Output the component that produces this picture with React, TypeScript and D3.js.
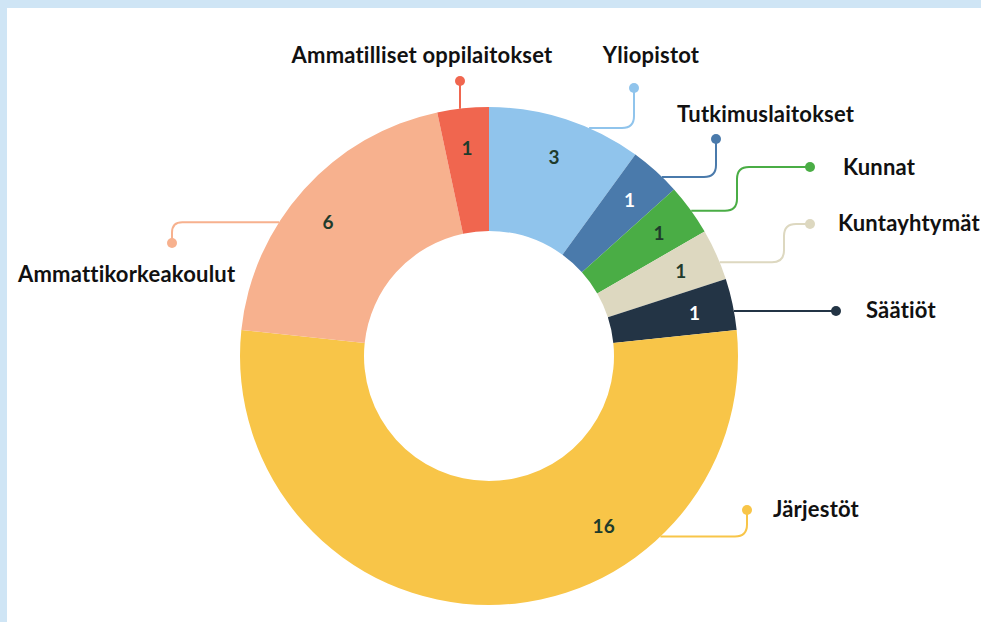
import React from "react";
import * as d3 from "d3";

const categories = [
  "Yliopistot",
  "Tutkimuslaitokset",
  "Kunnat",
  "Kuntayhtymät",
  "Säätiöt",
  "Järjestöt",
  "Ammattikorkeakoulut",
  "Ammatilliset oppilaitokset",
];
const values = [3, 1, 1, 1, 1, 16, 6, 1];

const colors = ["#90c4ec", "#4a7aab", "#4aad45", "#ddd8c0", "#233445", "#f8c548", "#f7b18e", "#f0664f"];
const valueColors = ["#1f3b2c", "#ffffff", "#1f3b2c", "#1f3b2c", "#ffffff", "#1f3b2c", "#1f3b2c", "#1f3b2c"];

// layout for leader lines and labels (positions only)
const layout = [
  { anchorDeg: 23.7, bendX: 634, dot: [634, 88], text: [651, 63], anchor: "middle", labelDeg: null },
  { anchorDeg: 44, bendX: 716, dot: [716, 139], text: [677, 122], anchor: "start", labelDeg: null },
  { anchorDeg: 54.3, bendX: 737, dot: [810, 167], text: [843, 175], anchor: "start", labelDeg: null },
  { anchorDeg: 67.9, bendX: 784, dot: [810, 224], text: [838, 231], anchor: "start", labelDeg: null },
  { anchorDeg: 79.6, bendX: 836, dot: [836, 311], text: [866, 318], anchor: "start", labelDeg: null },
  { anchorDeg: 136.5, bendX: 747, dot: [747, 510], text: [773, 517], anchor: "start", labelDeg: 146 },
  { anchorDeg: 302.5, bendX: 172, dot: [172, 243], text: [18, 282], anchor: "start", labelDeg: 310 },
  { anchorDeg: 353.3, bendX: 460, dot: [460, 81], text: [422, 63], anchor: "middle", labelDeg: null },
];

const W = 981;
const H = 622;
const cx = 489;
const cy = 356;
const R = 249;
const r0 = 125;
const labelR = 210;

function roundedPath(pts: number[][], rad: number) {
  const p: number[][] = [];
  pts.forEach((q) => {
    const last = p[p.length - 1];
    if (!last || Math.abs(last[0] - q[0]) > 0.01 || Math.abs(last[1] - q[1]) > 0.01) p.push(q);
  });
  const c: number[][] = [p[0]];
  for (let i = 1; i < p.length - 1; i++) {
    const a = c[c.length - 1], b = p[i], n = p[i + 1];
    const cross = (b[0] - a[0]) * (n[1] - b[1]) - (b[1] - a[1]) * (n[0] - b[0]);
    if (Math.abs(cross) > 0.01) c.push(b);
  }
  if (p.length > 1) c.push(p[p.length - 1]);
  let d = `M${c[0][0]},${c[0][1]}`;
  for (let i = 1; i < c.length - 1; i++) {
    const a = c[i - 1], b = c[i], n = c[i + 1];
    const l1 = Math.hypot(b[0] - a[0], b[1] - a[1]);
    const l2 = Math.hypot(n[0] - b[0], n[1] - b[1]);
    const rr = Math.min(rad, l1 / 2, l2 / 2);
    const p1 = [b[0] - ((b[0] - a[0]) / l1) * rr, b[1] - ((b[1] - a[1]) / l1) * rr];
    const p2 = [b[0] + ((n[0] - b[0]) / l2) * rr, b[1] + ((n[1] - b[1]) / l2) * rr];
    d += `L${p1[0]},${p1[1]}Q${b[0]},${b[1]} ${p2[0]},${p2[1]}`;
  }
  const e = c[c.length - 1];
  d += `L${e[0]},${e[1]}`;
  return d;
}

export default function App() {
  const data = categories.map((c, i) => ({ name: c, value: values[i], i }));
  const pie = d3.pie<any>().sort(null).value((d) => d.value);
  const arcs = pie(data);
  const arcGen = d3.arc<any>().innerRadius(r0).outerRadius(R);
  const toRad = (deg: number) => (deg * Math.PI) / 180;
  const font = "Lato, 'Noto Sans', sans-serif";

  return (
    <div style={{ position: "fixed", left: 0, top: 0, width: W, height: H, background: "#fff" }}>
      <svg width={W} height={H} style={{ display: "block" }}>
        <rect x={0} y={0} width={W} height={H} fill="#ffffff" />
        <rect x={0} y={0} width={W} height={8} fill="#cfe5f5" />
        <rect x={0} y={0} width={7} height={H} fill="#cfe5f5" />
        <g transform={`translate(${cx},${cy})`}>
          {arcs.map((a, i) => (
            <path key={i} d={arcGen(a) as string} fill={colors[i]} />
          ))}
        </g>
        {arcs.map((a, i) => {
          const L = layout[i];
          const ang = toRad(L.anchorDeg);
          const sx = cx + R * Math.sin(ang);
          const sy = cy - R * Math.cos(ang);
          const pts = [
            [sx, sy],
            [L.bendX, sy],
            [L.bendX, L.dot[1]],
            [L.dot[0], L.dot[1]],
          ];
          const path =
            Math.abs(L.bendX - L.dot[0]) < 0.1 && Math.abs(sx - L.bendX) < 4
              ? `M${L.bendX},${sy}L${L.dot[0]},${L.dot[1]}`
              : roundedPath(pts, 12);
          return (
            <g key={"l" + i}>
              <path d={path} fill="none" stroke={colors[i]} strokeWidth={2} />
              <circle cx={L.dot[0]} cy={L.dot[1]} r={5} fill={colors[i]} />
              <text
                x={L.text[0]}
                y={L.text[1]}
                textAnchor={L.anchor as any}
                fontFamily={font}
                fontWeight={700}
                fontSize={22}
                fill="#111111"
                letterSpacing={0.2}
              >
                {a.data.name}
              </text>
            </g>
          );
        })}
        {arcs.map((a, i) => {
          const L = layout[i];
          const mid = L.labelDeg != null ? toRad(L.labelDeg) : (a.startAngle + a.endAngle) / 2;
          const rr = L.labelDeg != null && L.labelDeg === 146 ? 205 : labelR;
          const x = cx + rr * Math.sin(mid);
          const y = cy - rr * Math.cos(mid);
          return (
            <text
              key={"v" + i}
              x={x}
              y={y}
              textAnchor="middle"
              dominantBaseline="central"
              fontFamily={font}
              fontWeight={700}
              fontSize={19}
              fill={valueColors[i]}
            >
              {a.data.value}
            </text>
          );
        })}
      </svg>
    </div>
  );
}
